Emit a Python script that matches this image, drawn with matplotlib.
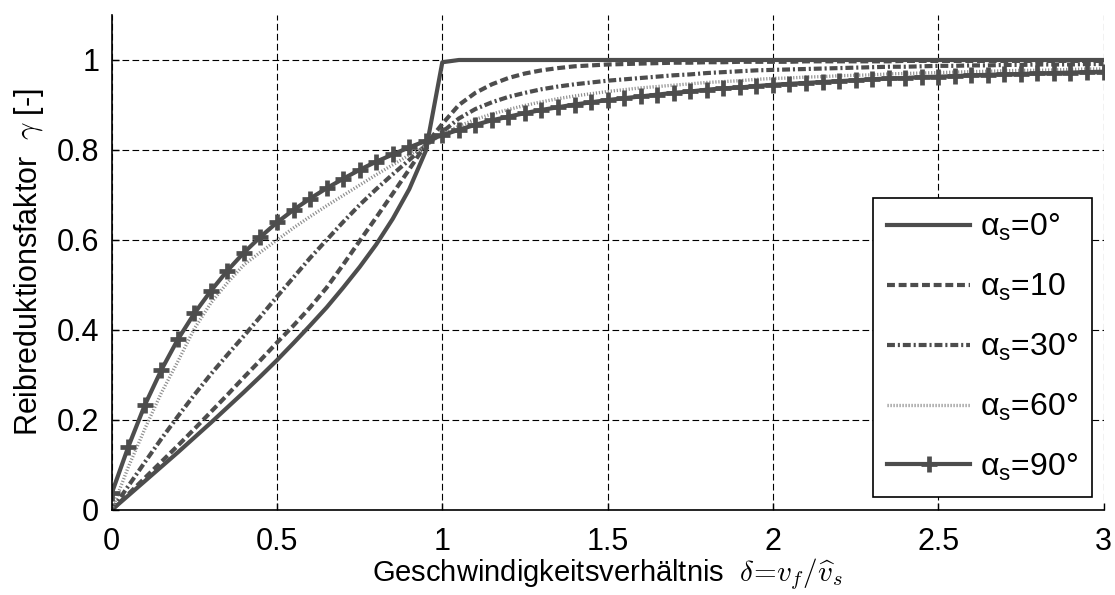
import numpy as np
import matplotlib
matplotlib.use("Agg")
import matplotlib.pyplot as plt
from matplotlib.ticker import FuncFormatter, MultipleLocator

plt.rcParams['font.family'] = ['Liberation Sans', 'DejaVu Sans']
plt.rcParams['mathtext.fontset'] = 'custom'
plt.rcParams['mathtext.rm'] = 'Liberation Sans'
plt.rcParams['mathtext.it'] = 'Liberation Sans:italic'
plt.rcParams['mathtext.sf'] = 'Liberation Sans'

# velocity ratio delta, sampled every 0.05
delta = np.round(np.linspace(0.0, 3.0, 61), 2)

gamma_0 = [0.000, 0.032, 0.064, 0.096, 0.128, 0.161, 0.194, 0.228, 0.262, 0.297,
           0.333, 0.371, 0.410, 0.450, 0.494, 0.540, 0.590, 0.647, 0.713, 0.798,
           0.995,
           1.0, 1.0, 1.0, 1.0, 1.0, 1.0, 1.0, 1.0, 1.0, 1.0,
           1.0, 1.0, 1.0, 1.0, 1.0, 1.0, 1.0, 1.0, 1.0, 1.0,
           1.0, 1.0, 1.0, 1.0, 1.0, 1.0, 1.0, 1.0, 1.0, 1.0,
           1.0, 1.0, 1.0, 1.0, 1.0, 1.0, 1.0, 1.0, 1.0, 1.0]

gamma_10 = [0.000, 0.035, 0.071, 0.107, 0.143, 0.180, 0.218, 0.256, 0.295, 0.333,
            0.372, 0.410, 0.450, 0.494, 0.545, 0.598, 0.650, 0.703, 0.757, 0.812,
            0.858,
            0.900, 0.927, 0.946, 0.960, 0.970, 0.977, 0.982, 0.986, 0.988, 0.990,
            0.991, 0.992, 0.993, 0.994, 0.994, 0.995, 0.995, 0.996, 0.996, 0.996,
            0.996, 0.997, 0.997, 0.997, 0.997, 0.997, 0.997, 0.998, 0.998, 0.998,
            0.998, 0.998, 0.998, 0.998, 0.998, 0.998, 0.998, 0.998, 0.998, 0.998]

gamma_30 = [0.000, 0.053, 0.106, 0.158, 0.208, 0.256, 0.302, 0.345, 0.387, 0.430,
            0.474, 0.517, 0.560, 0.600, 0.640, 0.678, 0.713, 0.746, 0.778, 0.810,
            0.840,
            0.870, 0.891, 0.906, 0.918, 0.927, 0.935, 0.941, 0.946, 0.950, 0.954,
            0.957, 0.960, 0.963, 0.966, 0.968, 0.971, 0.973, 0.975, 0.977, 0.978,
            0.979, 0.980, 0.981, 0.982, 0.983, 0.984, 0.985, 0.985, 0.986, 0.987,
            0.987, 0.988, 0.988, 0.989, 0.989, 0.990, 0.990, 0.990, 0.991, 0.991]

gamma_60 = [0.000, 0.095, 0.180, 0.260, 0.330, 0.403, 0.460, 0.505, 0.545, 0.573,
            0.600, 0.627, 0.652, 0.676, 0.699, 0.722, 0.745, 0.767, 0.789, 0.810,
            0.835,
            0.853, 0.868, 0.880, 0.890, 0.899, 0.907, 0.914, 0.920, 0.925, 0.930,
            0.934, 0.938, 0.941, 0.944, 0.947, 0.950, 0.952, 0.954, 0.957, 0.959,
            0.960, 0.962, 0.963, 0.965, 0.966, 0.967, 0.969, 0.970, 0.971, 0.972,
            0.973, 0.974, 0.975, 0.976, 0.977, 0.977, 0.978, 0.979, 0.980, 0.980]

gamma_90 = [0.037, 0.140, 0.233, 0.311, 0.379, 0.437, 0.487, 0.532, 0.572, 0.607,
            0.639, 0.667, 0.692, 0.715, 0.736, 0.756, 0.774, 0.790, 0.806, 0.820,
            0.833,
            0.845, 0.856, 0.866, 0.874, 0.882, 0.889, 0.895, 0.901, 0.906, 0.911,
            0.915, 0.919, 0.923, 0.927, 0.930, 0.934, 0.937, 0.939, 0.942, 0.945,
            0.947, 0.949, 0.951, 0.953, 0.955, 0.957, 0.959, 0.960, 0.962, 0.963,
            0.964, 0.966, 0.967, 0.968, 0.969, 0.970, 0.971, 0.972, 0.973, 0.974]

labels = ['α$_{\\mathrm{s}}$=0°', 'α$_{\\mathrm{s}}$=10',
          'α$_{\\mathrm{s}}$=30°', 'α$_{\\mathrm{s}}$=60°',
          'α$_{\\mathrm{s}}$=90°']

col = '#4d4d4d'
fig = plt.figure(figsize=(11.15, 5.95), dpi=100)
ax = fig.add_axes([0.1002, 0.1429, 0.8895, 0.8319])

ax.plot(delta, gamma_0, color=col, lw=3.0, ls='-', label=labels[0])
ax.plot(delta, gamma_10, color=col, lw=3.0, ls=(0, (1.9, 0.9)), label=labels[1])
ax.plot(delta, gamma_30, color=col, lw=3.0, ls=(0, (1.9, 0.7, 0.5, 0.7)), label=labels[2])
ax.plot(delta, gamma_60, color='#8e8e8e', lw=2.4, ls=(0, (0.35, 0.55)), label=labels[3])
ax.plot(delta, gamma_90, color=col, lw=3.0, ls='-', marker='+', ms=11, mew=3.4,
        label=labels[4])

ax.set_xlim(0, 3)
ax.set_ylim(0, 1.1)
ax.xaxis.set_major_locator(MultipleLocator(0.5))
ax.set_yticks([0, 0.2, 0.4, 0.6, 0.8, 1.0])
fmt = FuncFormatter(lambda v, p: '%g' % v)
ax.xaxis.set_major_formatter(fmt)
ax.yaxis.set_major_formatter(fmt)

ax.grid(True, color='black', lw=0.8, ls=(0, (6, 3)))
ax.set_axisbelow(True)
for s in ('top', 'right'):
    ax.spines[s].set_visible(False)
for s in ('left', 'bottom'):
    ax.spines[s].set_linewidth(1.2)
ax.tick_params(direction='in', length=5, width=1.0, labelsize=22,
               top=False, right=False)
ax.tick_params(axis='x', pad=12)
ax.tick_params(axis='y', pad=9)

ax.set_xlabel(r'Geschwindigkeitsverhältnis  $\delta\!=\!v_f/\widehat{v}_s$',
              fontsize=21, labelpad=0)
ax.xaxis.label.set_math_fontfamily('cm')
ax.set_ylabel(r'Reibreduktionsfaktor  $\gamma$ [-]', fontsize=22, labelpad=8)
ax.yaxis.label.set_math_fontfamily('cm')

leg = ax.legend(loc='lower right', bbox_to_anchor=(0.9884, 0.026),
                borderaxespad=0, fontsize=23, handlelength=2.6, handletextpad=0.3,
                labelspacing=0.9, numpoints=1, fancybox=False, framealpha=1,
                edgecolor='black', borderpad=0.45)
leg.get_frame().set_linewidth(1.2)

fig.savefig('out.png', dpi=100)
